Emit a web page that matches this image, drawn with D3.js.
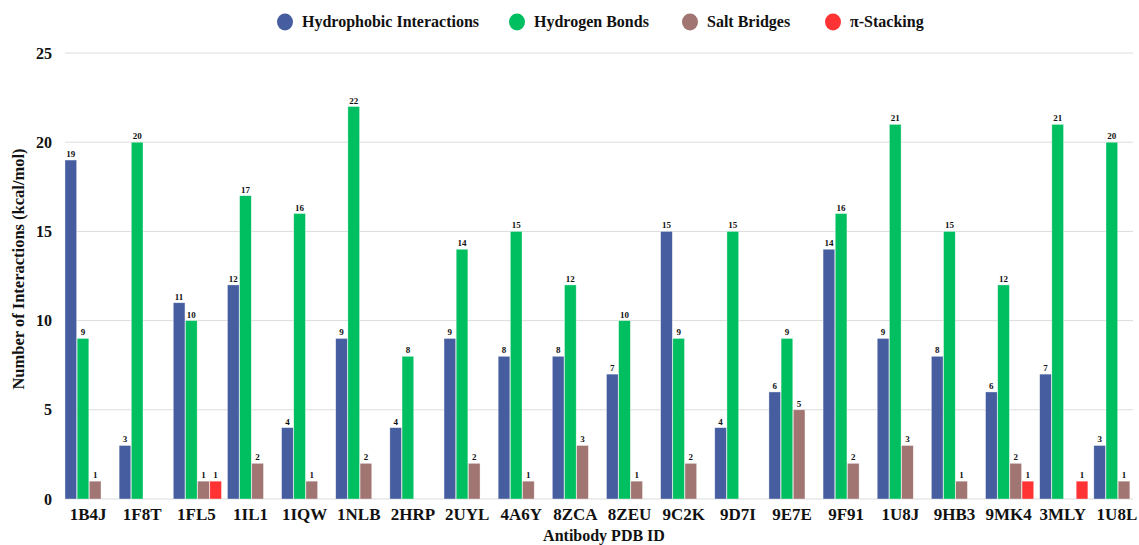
<!DOCTYPE html>
<html>
<head>
<meta charset="utf-8">
<script src="https://cdn.jsdelivr.net/npm/d3@7"></script>
<style>
  body { margin: 0; background: #fff; }
  text { font-family: "Liberation Serif", "Times New Roman", serif; font-weight: bold; fill: #111; }
</style>
</head>
<body>
<svg id="chart" width="1139" height="545"></svg>
<script>
"use strict";

const pdbIds = ["1B4J", "1F8T", "1FL5", "1IL1", "1IQW", "1NLB", "2HRP", "2UYL", "4A6Y", "8ZCA",
    "8ZEU", "9C2K", "9D7I", "9E7E", "9F91", "1U8J", "9HB3", "9MK4", "3MLY", "1U8L"];
const hydrophobic = [19, 3, 11, 12, 4, 9, 4, 9, 8, 8, 7, 15, 4, 6, 14, 9, 8, 6, 7, 3];
const hydrogenBonds = [9, 20, 10, 17, 16, 22, 8, 14, 15, 12, 10, 9, 15, 9, 16, 21, 15, 12, 21, 20];
const saltBridges = [1, 0, 1, 2, 1, 2, 0, 2, 1, 3, 1, 2, 0, 5, 2, 3, 1, 2, 0, 1];
const piStacking = [0, 0, 1, 0, 0, 0, 0, 0, 0, 0, 0, 0, 0, 0, 0, 0, 0, 1, 1, 0];
const seriesNames = ["Hydrophobic Interactions", "Hydrogen Bonds", "Salt Bridges", "\u03c0-Stacking"];
const seriesColors = ["#465da0", "#00bf60", "#a07572", "#ff3333"];
const yTicks = [0, 5, 10, 15, 20, 25];

const seriesValues = [hydrophobic, hydrogenBonds, saltBridges, piStacking];

const svg = d3.select("#chart");

const scaleY = d3.scaleLinear().domain([0, 25]).range([499, 53]);
const scaleX = d3.scaleBand().domain(pdbIds).range([62, 1145])
    .paddingInner(0.11).paddingOuter(0.055);
const scaleSub = d3.scaleBand().domain(d3.range(4)).range([0, scaleX.bandwidth()]).paddingInner(0.04);

// grid
svg.append("g")
    .attr("class", "grid")
    .selectAll("line")
    .data(yTicks)
    .join("line")
    .attr("x1", 65).attr("x2", 1133)
    .attr("y1", d => scaleY(d)).attr("y2", d => scaleY(d))
    .attr("stroke", "#dcdcdc")
    .attr("stroke-width", 1);

// y tick labels
svg.append("g")
    .selectAll("text")
    .data(yTicks)
    .join("text")
    .attr("x", 52)
    .attr("y", d => scaleY(d))
    .attr("dy", "0.35em")
    .attr("text-anchor", "end")
    .style("font-size", "16px")
    .text(d => d);

// bars
const groups = svg.append("g")
    .selectAll("g")
    .data(pdbIds)
    .join("g")
    .attr("transform", d => `translate(${scaleX(d)},0)`);

groups.each(function(id, i) {
    const g = d3.select(this);
    const vals = seriesValues.map((s, k) => ({k: k, v: s[i]})).filter(d => d.v > 0);
    g.selectAll("rect")
        .data(vals)
        .join("rect")
        .attr("x", d => scaleSub(d.k))
        .attr("width", scaleSub.bandwidth())
        .attr("y", d => scaleY(d.v))
        .attr("height", d => scaleY(0) - scaleY(d.v))
        .attr("fill", d => seriesColors[d.k])
        .attr("stroke", "#ffffff")
        .attr("stroke-opacity", 0.6)
        .attr("stroke-width", 0.6);
    g.selectAll("text.val")
        .data(vals)
        .join("text")
        .attr("class", "val")
        .attr("x", d => scaleSub(d.k) + scaleSub.bandwidth() / 2)
        .attr("y", d => scaleY(d.v) - 3)
        .attr("text-anchor", "middle")
        .style("font-size", "9px")
        .text(d => d.v);
});

// x tick labels
svg.append("g")
    .selectAll("text")
    .data(pdbIds)
    .join("text")
    .attr("x", d => scaleX(d) + scaleX.bandwidth() / 2 - 1)
    .attr("y", 520)
    .attr("text-anchor", "middle")
    .style("font-size", "17px")
    .text(d => d);

// axis titles
svg.append("text")
    .attr("x", 604).attr("y", 541)
    .attr("text-anchor", "middle")
    .style("font-size", "16px")
    .text("Antibody PDB ID");

svg.append("text")
    .attr("transform", "translate(24,269) rotate(-90)")
    .attr("text-anchor", "middle")
    .style("font-size", "16.5px")
    .text("Number of Interactions (kcal/mol)");

// legend
const legendX = [285, 517, 690, 833];
const legend = svg.append("g")
    .selectAll("g")
    .data(seriesNames)
    .join("g")
    .attr("transform", (d, i) => `translate(${legendX[i]},22)`);
legend.append("ellipse")
    .attr("rx", 8).attr("ry", 8.5)
    .attr("fill", (d, i) => seriesColors[i]);
legend.append("text")
    .attr("x", 17)
    .attr("y", 5)
    .style("font-size", "16px")
    .text(d => d);
</script>
</body>
</html>
